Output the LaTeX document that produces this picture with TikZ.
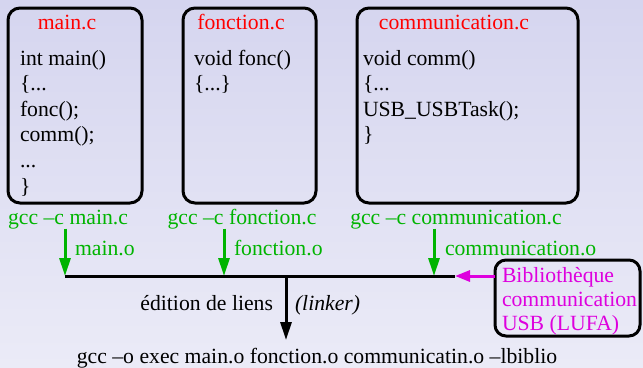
\documentclass[tikz,border=0pt]{standalone}
\usepackage{fontspec}
\setmainfont{Liberation Serif}
\usetikzlibrary{arrows.meta}
\definecolor{bgtop}{RGB}{213,213,239}
\definecolor{bgbot}{RGB}{235,235,247}
\definecolor{grn}{RGB}{0,180,0}
\definecolor{mag}{RGB}{222,0,222}
\definecolor{rd}{RGB}{255,0,0}
\begin{document}
\begin{tikzpicture}[x=1bp,y=-1bp,
  every node/.style={font=\fontsize{21.7bp}{26bp}\selectfont, inner sep=0pt, outer sep=0pt},
  srcbox/.style={draw, line width=3bp, rounded corners=12bp, anchor=north west},
  titletxt/.style={rd, anchor=base},
  code/.style={anchor=base west},
  glab/.style={grn, anchor=base},
  olab/.style={grn, anchor=base west},
  mtxt/.style={mag, anchor=base west},
  garrow/.style={grn, line width=3bp, -{Triangle[length=18bp,width=11bp]}},
  barrow/.style={black, line width=3bp, -{Triangle[length=18bp,width=11bp]}},
  marrow/.style={mag, line width=3bp, -{Triangle[length=15bp,width=11bp]}},
]
\shade[top color=bgtop, bottom color=bgbot] (0,0) rectangle (643,367);
\useasboundingbox (0,0) rectangle (643,367);

% source boxes
\node[srcbox, minimum width=134bp, minimum height=195bp] (bmain) at (8,8) {};
\node[srcbox, minimum width=133bp, minimum height=195bp] (bfonc) at (183,8) {};
\node[srcbox, minimum width=221bp, minimum height=195bp] (bcomm) at (357,8) {};

% titles
\node[titletxt] (tmain) at (67,29) {main.c};
\node[titletxt] (tfonc) at (241,29) {fonction.c};
\node[titletxt] (tcomm) at (454,29) {communication.c};

% code main.c
\node[code] (m1) at (20,65) {int main()};
\node[code] (m2) at (20,90.6) {\{...};
\node[code] (m3) at (20,116.2) {fonc();};
\node[code] (m4) at (20,141.8) {comm();};
\node[code] (m5) at (20,167.4) {...};
\node[code] (m6) at (20,193) {\}};

% code fonction.c
\node[code] (f1) at (194,65) {void fonc()};
\node[code] (f2) at (194,90.6) {\{...\}};

% code communication.c
\node[code] (c1) at (363,65) {void comm()};
\node[code] (c2) at (363,90.6) {\{...};
\node[code] (c3) at (363,116.2) {USB\_USBTask();};
\node[code] (c4) at (363,141.8) {\}};

% compile commands
\node[glab] (gmain) at (68,224) {gcc –c main.c};
\node[glab] (gfonc) at (242,224) {gcc –c fonction.c};
\node[glab] (gcomm) at (456,224) {gcc –c communication.c};

% bus
\coordinate (busL) at (65,276);
\coordinate (jfonc) at (224,276);
\coordinate (jcomm) at (434,276);
\coordinate (jdown) at (286,276);
\coordinate (busR) at (455,276);
\coordinate (tipdown) at (286,340);

\draw[garrow] (gmain.south -| busL) -- (busL);
\draw[garrow] (gfonc.south -| jfonc) -- (jfonc);
\draw[garrow] (gcomm.south -| jcomm) -- (jcomm);

\node[olab] (omain) at (75,255) {main.o};
\node[olab] (ofonc) at (234,255) {fonction.o};
\node[olab] (ocomm) at (445,255) {communication.o};

\draw[line width=3bp] (busL) -- (busR);

% library
\node[srcbox, minimum width=145bp, minimum height=76bp, rounded corners=11bp] (lib) at (495,260) {};
\node[mtxt] (l1) at (502,282) {Bibliothèque};
\node[mtxt] (l2) at (502,306) {communication};
\node[mtxt] (l3) at (502,330) {USB (LUFA)};
\draw[marrow] (lib.west |- busR) -- (busR);

% link step
\draw[barrow] (jdown) -- (tipdown);
\node[anchor=base east] (edl) at (273,310) {édition de liens};
\node[anchor=base west] (lnk) at (295,310) {\itshape (linker)};
\node[anchor=base] (cmd) at (317,363) {gcc –o exec main.o fonction.o communicatin.o –lbiblio};
\end{tikzpicture}
\end{document}
